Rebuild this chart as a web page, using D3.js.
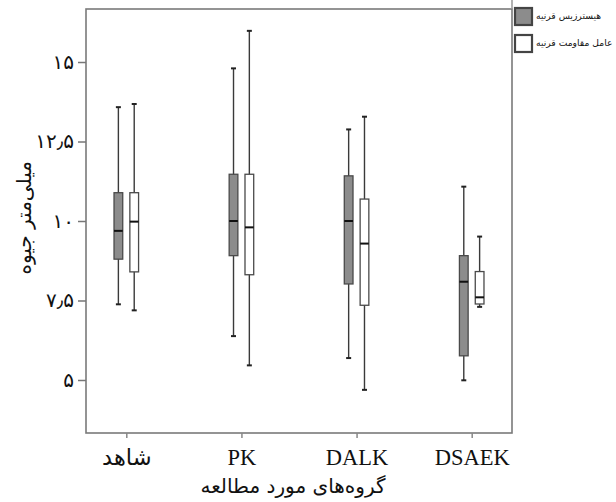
<!DOCTYPE html>
<html>
<head>
<meta charset="utf-8">
<script src="https://cdn.jsdelivr.net/npm/d3@7"></script>
<style>
	body{margin:0;background:#fff;}
	svg{display:block;}
</style>
</head>
<body>
<div id="chart"></div>
<script>
// groups and series
const groups= ["شاهد","PK","DALK","DSAEK"];
const seriesNames= ["هیسترزیس قرنیه","عامل مقاومت قرنیه"];
// corneal hysteresis: whisker min, Q1, median, Q3, whisker max
const hystMin= [7.38, 6.38, 5.69, 4.99];
const hystQ1= [8.80, 8.91, 8.02, 5.76];
const hystMed= [9.69, 10.0, 10.0, 8.09];
const hystQ3= [10.89, 11.47, 11.42, 8.91];
const hystMax= [13.58, 14.80, 12.88, 11.08];
// corneal resistance factor
const crfMin= [7.19, 5.46, 4.69, 7.30];
const crfQ1= [8.40, 8.31, 7.35, 7.39];
const crfMed= [9.98, 9.80, 9.29, 7.60];
const crfQ3= [10.89, 11.47, 10.69, 8.41];
const crfMax= [13.68, 15.98, 13.28, 9.51];
// y ticks
const yTicks= [5, 7.5, 10, 12.5, 15];
const yTickLabels= ["۵","۷٫۵","۱۰","۱۲٫۵","۱۵"];
const yTitle= "میلی‌متر جیوه";
const xTitle= "گروه‌های مورد مطالعه";

const chart=
{
	draw: function ()
	{
		const w= 616;
		const h= 502;
		const left= 86, right= 512, top= 9, bottom= 433;
		const fills= ["#8c8c8c","#ffffff"];

		const svg= d3.select("#chart")
		.append("svg")
		.attr("width", w)
		.attr("height", h);

		const yScale= d3.scaleLinear()
		.domain([3.333, 16.667])
		.range([bottom, top]);

		const xScale= d3.scalePoint()
		.domain(groups)
		.range([left, right])
		.padding(0.35);

		const sub= d3.scaleBand()
		.domain([0,1])
		.range([-19.4, 19.4])
		.padding(0.45);

		//frame
		svg.append("rect")
		.attr("x", left)
		.attr("y", top)
		.attr("width", right-left)
		.attr("height", bottom-top)
		.attr("fill","none")
		.attr("stroke","#7a7a7a")
		.attr("stroke-width",1.6);
		svg.append("line")
		.attr("x1",right).attr("x2",right)
		.attr("y1",0).attr("y2",top)
		.attr("stroke","#999")
		.attr("stroke-width",1.5);

		// Y axis
		const yAxis= d3.axisLeft(yScale)
		.tickValues(yTicks)
		.tickSize(8)
		.tickPadding(4)
		.tickFormat((d,i)=> yTickLabels[i]);
		const gy= svg.append("g")
		.attr("transform","translate("+left+",0)")
		.call(yAxis);
		gy.select(".domain").remove();
		gy.selectAll("line").attr("stroke","#777").attr("stroke-width",1.5);
		gy.selectAll("text")
		.style("font-family","'DejaVu Sans', sans-serif")
		.style("font-size","20px")
		.attr("fill","#111");

		// X axis
		const xAxis= d3.axisBottom(xScale).tickSize(5).tickPadding(11);
		const gx= svg.append("g")
		.attr("transform","translate(0,"+bottom+")")
		.call(xAxis);
		gx.select(".domain").remove();
		gx.selectAll("line").attr("stroke","#888").attr("stroke-width",1.5);
		gx.selectAll("text")
		.style("font-family","'Liberation Serif','DejaVu Sans', serif")
		.style("font-size","22.5px")
		.attr("fill","#111");

		// axis titles
		svg.append("text")
		.attr("transform","translate(31,"+yScale(10.1)+") rotate(-90)")
		.attr("text-anchor","middle")
		.style("font-family","'DejaVu Sans', sans-serif")
		.style("font-size","20px")
		.attr("fill","#111")
		.text(yTitle);

		svg.append("text")
		.attr("x", (left+right)/2 - 6)
		.attr("y", 493)
		.attr("text-anchor","middle")
		.style("font-family","'DejaVu Sans', sans-serif")
		.style("font-size","20px")
		.attr("fill","#111")
		.text(xTitle);

		const series= [
			groups.map((g,i)=> ({g:g, lo:hystMin[i], q1:hystQ1[i], med:hystMed[i], q3:hystQ3[i], hi:hystMax[i]})),
			groups.map((g,i)=> ({g:g, lo:crfMin[i], q1:crfQ1[i], med:crfMed[i], q3:crfQ3[i], hi:crfMax[i]}))
		];
		series.forEach((data,s)=>
		{
			const bw= sub.bandwidth();
			const gs= svg.append("g").attr("class","series-"+s);
			const cx= (d)=> xScale(d.g)+sub(s)+bw/2;
			// whiskers
			gs.selectAll(".whisker").data(data).enter()
			.append("line")
			.attr("x1",cx).attr("x2",cx)
			.attr("y1",(d)=> yScale(d.hi))
			.attr("y2",(d)=> yScale(d.lo))
			.attr("stroke","#3a3a3a")
			.attr("stroke-width",1.4);
			// caps
			["hi","lo"].forEach((k)=>
			{
				gs.selectAll(".cap-"+k).data(data).enter()
				.append("line")
				.attr("x1",(d)=> cx(d)-2.5).attr("x2",(d)=> cx(d)+2.5)
				.attr("y1",(d)=> yScale(d[k])).attr("y2",(d)=> yScale(d[k]))
				.attr("stroke","#222")
				.attr("stroke-width",2);
			});
			// boxes
			gs.selectAll(".box").data(data).enter()
			.append("rect")
			.attr("x",(d)=> xScale(d.g)+sub(s))
			.attr("width",bw)
			.attr("y",(d)=> yScale(d.q3))
			.attr("height",(d)=> yScale(d.q1)-yScale(d.q3))
			.attr("fill",fills[s])
			.attr("stroke","#4a4a4a")
			.attr("stroke-width",1.3);
			// medians
			gs.selectAll(".median").data(data).enter()
			.append("line")
			.attr("x1",(d)=> xScale(d.g)+sub(s))
			.attr("x2",(d)=> xScale(d.g)+sub(s)+bw)
			.attr("y1",(d)=> yScale(d.med))
			.attr("y2",(d)=> yScale(d.med))
			.attr("stroke","#111")
			.attr("stroke-width",2);
		});

		//Legend
		const legend= svg.selectAll(".legend")
		.data(seriesNames)
		.enter().append("g")
		.attr("class","legend")
		.attr("transform",(d,i)=> "translate(515,"+(8+i*27)+")");
		legend.append("rect")
		.attr("width",17)
		.attr("height",17)
		.attr("fill",(d,i)=> fills[i])
		.attr("stroke","#444")
		.attr("stroke-width",2.2);
		legend.append("text")
		.attr("x",21)
		.attr("y",8)
		.attr("dy","0.35em")
		.style("font-family","'DejaVu Sans', sans-serif")
		.style("font-size","9.2px")
		.attr("fill","#111")
		.text((d)=> d);
	}
};

document.addEventListener("DOMContentLoaded", function(event)
{
	chart.draw();
});
</script>
</body>
</html>
